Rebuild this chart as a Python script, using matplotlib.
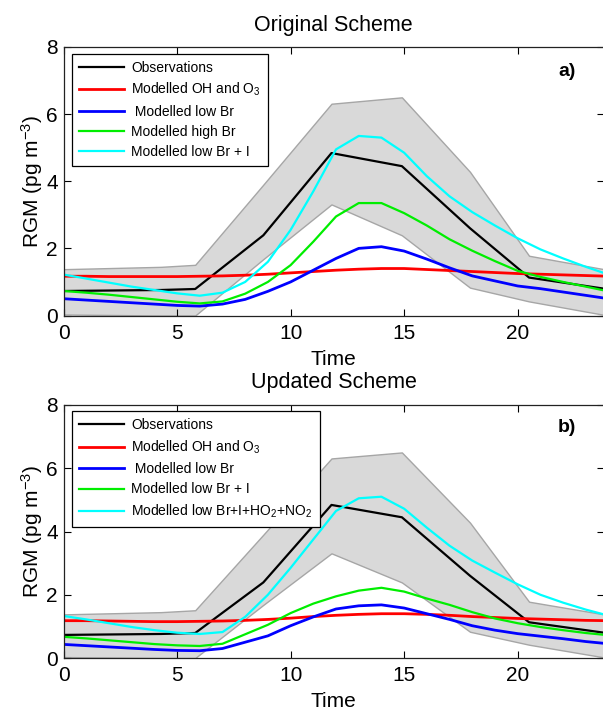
import numpy as np
import matplotlib
matplotlib.use("Agg")
import matplotlib.pyplot as plt

plt.rcParams['font.family'] = ['Liberation Sans', 'DejaVu Sans']
plt.rcParams['mathtext.fontset'] = 'custom'
plt.rcParams['mathtext.rm'] = 'Liberation Sans'
plt.rcParams['mathtext.it'] = 'Liberation Sans'

# observations (mean and +/- sd band)
obs_t = [0, 4.3, 5.8, 8.8, 11.8, 14.9, 17.9, 20.5, 23.8]
obs = [0.73, 0.76, 0.79, 2.39, 4.84, 4.45, 2.60, 1.13, 0.80]
obs_hi = [1.38, 1.45, 1.51, 3.90, 6.31, 6.50, 4.28, 1.78, 1.38]
obs_lo = [0.03, 0.0, 0.0, 1.68, 3.31, 2.39, 0.83, 0.42, 0.02]

# model output, hourly
t = list(range(25))

# panel a) original scheme
a_red = [1.17, 1.17, 1.16, 1.16, 1.16, 1.16, 1.17, 1.18, 1.20, 1.23, 1.27, 1.31, 1.35,
         1.38, 1.40, 1.40, 1.37, 1.34, 1.31, 1.28, 1.25, 1.23, 1.21, 1.19, 1.17]
a_blue = [0.50, 0.46, 0.42, 0.38, 0.34, 0.30, 0.28, 0.34, 0.48, 0.72, 1.00, 1.35, 1.70,
          2.00, 2.05, 1.92, 1.68, 1.42, 1.18, 1.03, 0.88, 0.80, 0.70, 0.60, 0.50]
a_green = [0.73, 0.68, 0.62, 0.55, 0.48, 0.41, 0.36, 0.42, 0.65, 1.00, 1.50, 2.20, 2.95,
           3.35, 3.35, 3.05, 2.68, 2.27, 1.93, 1.62, 1.33, 1.15, 1.00, 0.86, 0.72]
a_cyan = [1.22, 1.10, 0.98, 0.86, 0.76, 0.66, 0.59, 0.68, 1.00, 1.60, 2.55, 3.70, 4.95,
          5.35, 5.30, 4.85, 4.15, 3.55, 3.08, 2.68, 2.30, 1.97, 1.70, 1.45, 1.22]

# panel b) updated scheme
b_red = [1.18, 1.18, 1.17, 1.16, 1.15, 1.15, 1.16, 1.17, 1.19, 1.22, 1.26, 1.31, 1.35,
         1.38, 1.40, 1.40, 1.38, 1.35, 1.31, 1.28, 1.25, 1.23, 1.21, 1.19, 1.18]
b_blue = [0.43, 0.39, 0.35, 0.31, 0.27, 0.24, 0.23, 0.30, 0.50, 0.70, 1.02, 1.30, 1.55,
          1.65, 1.68, 1.58, 1.40, 1.22, 1.02, 0.88, 0.77, 0.69, 0.61, 0.52, 0.45]
b_green = [0.67, 0.62, 0.56, 0.50, 0.44, 0.40, 0.38, 0.45, 0.75, 1.05, 1.42, 1.72, 1.95,
           2.13, 2.22, 2.10, 1.88, 1.68, 1.45, 1.25, 1.10, 0.98, 0.88, 0.79, 0.72]
b_cyan = [1.33, 1.22, 1.10, 0.98, 0.88, 0.80, 0.76, 0.82, 1.30, 2.00, 2.85, 3.75, 4.65,
          5.05, 5.10, 4.72, 4.12, 3.55, 3.08, 2.70, 2.33, 2.00, 1.75, 1.53, 1.34]

labels_a = ['Observations', 'Modelled OH and O$_3$', ' Modelled low Br',
            'Modelled high Br', 'Modelled low Br + I']
labels_b = ['Observations', 'Modelled OH and O$_3$', ' Modelled low Br',
            'Modelled low Br + I', 'Modelled low Br+I+HO$_2$+NO$_2$']

fig = plt.figure(figsize=(6.03, 7.10), dpi=100)
W, H = 603.0, 710.0
xr = 604.0
ax1 = fig.add_axes([63.5 / W, 1 - 315.5 / H, (xr - 63.5) / W, 268.5 / H])
ax2 = fig.add_axes([63.5 / W, 1 - 658 / H, (xr - 63.5) / W, 253 / H])


def panel(ax, red, blue, green, cyan, labels, title, tag, tpad):
    ax.fill_between(obs_t, obs_lo, obs_hi, facecolor='#d9d9d9', edgecolor='#a6a6a6', linewidth=1.0)
    ax.plot(obs_t, obs, color='black', lw=1.6, label=labels[0])
    ax.plot(t, red, color='#ff0000', lw=2.0, label=labels[1])
    ax.plot(t, blue, color='#0000ff', lw=2.0, label=labels[2])
    ax.plot(t, green, color='#00ee00', lw=1.6, label=labels[3])
    ax.plot(t, cyan, color='#00ffff', lw=1.6, label=labels[4])
    ax.set_xlim(0, 23.8)
    ax.set_ylim(0, 8)
    ax.set_xticks([0, 5, 10, 15, 20])
    ax.set_yticks([0, 2, 4, 6, 8])
    ax.tick_params(direction='in', length=5, width=0.8, labelsize=15, top=True, right=True)
    ax.tick_params(axis='x', pad=6)
    ax.tick_params(axis='y', pad=4)
    for s in ax.spines.values():
        s.set_linewidth(0.9)
        s.set_color('#222222')
    ax.set_xlabel('Time', fontsize=15, labelpad=5)
    ax.set_ylabel('RGM (pg m$^{-3}$)', fontsize=15, labelpad=1)
    ax.set_title(title, fontsize=15.5, pad=tpad)
    ax.text(0.915, 0.91, tag, transform=ax.transAxes, fontsize=14, fontweight='bold',
            ha='left', va='center')
    leg = ax.legend(loc='upper left', bbox_to_anchor=(0.015, 0.975), fontsize=10,
                    frameon=True, fancybox=False, framealpha=1, edgecolor='black',
                    handlelength=3.3, handletextpad=0.5, labelspacing=0.45,
                    borderpad=0.5, borderaxespad=0)
    leg.get_frame().set_linewidth(0.9)


panel(ax1, a_red, a_blue, a_green, a_cyan, labels_a, 'Original Scheme', 'a)', 11.5)
panel(ax2, b_red, b_blue, b_green, b_cyan, labels_b, 'Updated Scheme', 'b)', 12)

fig.savefig('out.png', dpi=100)
